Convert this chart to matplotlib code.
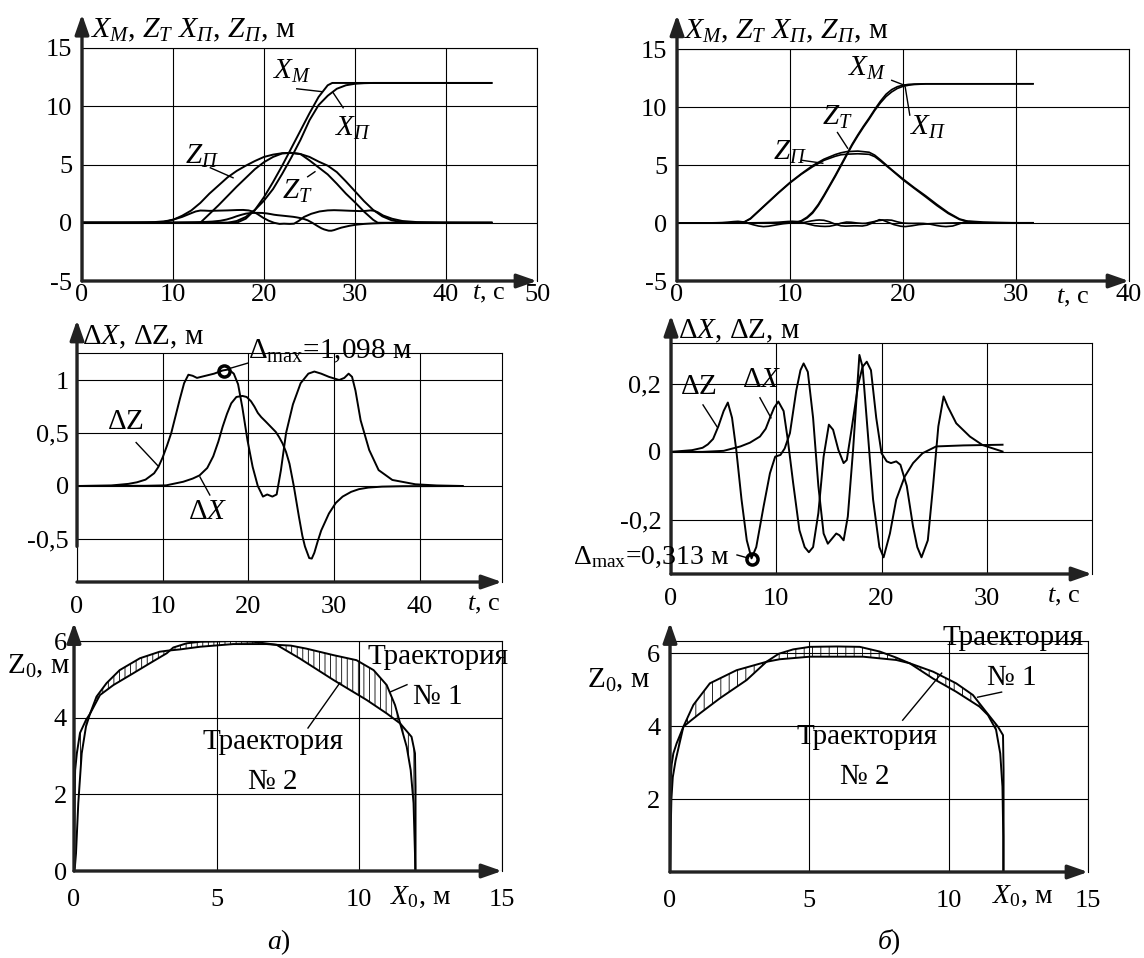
import numpy as np
import matplotlib
matplotlib.use('Agg')
import matplotlib.pyplot as plt

plt.rcParams['font.family'] = ['Liberation Serif', 'DejaVu Serif']
plt.rcParams['mathtext.fontset'] = 'custom'
plt.rcParams['mathtext.rm'] = 'Liberation Serif'
plt.rcParams['mathtext.it'] = 'Liberation Serif:italic'
plt.rcParams['mathtext.bf'] = 'Liberation Serif:bold'
plt.rcParams['hatch.linewidth'] = 0.6
plt.rcParams['axes.unicode_minus'] = False

# ---------------- data: panel a) top ----------------
t_zp_a = [0, 8, 9, 10, 11, 12, 13, 14, 15, 16, 17, 18, 19, 20, 21, 22, 23, 24, 25, 26, 27, 28, 29, 30, 31, 32, 33, 34, 35, 36, 45]
zp_a = [0, 0, 0.07, 0.25, 0.6, 1.05, 1.7, 2.5, 3.2, 3.9, 4.45, 4.9, 5.3, 5.65, 5.85, 5.97, 6.0, 5.9, 5.65, 5.25, 4.9, 4.35, 3.55, 2.7, 1.85, 1.1, 0.55, 0.22, 0.07, 0, 0]
t_zt_a = [0, 13, 14, 15, 16, 17, 18, 19, 20, 21, 22, 23, 24, 25, 26, 27, 28, 29, 30, 31, 32, 32.5, 45]
zt_a = [0, 0, 0.75, 1.5, 2.3, 3.1, 3.85, 4.6, 5.2, 5.65, 5.95, 6.0, 5.9, 5.35, 4.75, 4.15, 3.35, 2.5, 1.75, 0.95, 0.25, 0, 0]
t_xm_a = [0, 17, 18, 19, 20, 21, 22, 23, 24, 25, 26, 27, 27.5, 45]
xm_a = [0, 0, 0.35, 1.1, 2.2, 3.5, 4.9, 6.4, 7.9, 9.4, 10.8, 11.8, 12, 12]
t_xp_a = [0, 16, 17, 18, 19, 20, 21, 22, 23, 24, 25, 26, 27, 28, 29, 30, 31, 32, 45]
xp_a = [0, 0, 0.15, 0.5, 1.1, 1.9, 2.9, 4.2, 5.6, 7.1, 8.8, 10.1, 10.9, 11.5, 11.8, 11.93, 11.98, 12, 12]

# ---------------- data: panel a) middle ----------------
t_dz_a = [0, 4, 6, 7, 8, 9, 9.5, 10, 10.5, 11, 11.5, 12, 12.5, 13, 13.5, 14, 15, 16, 17, 17.7, 18.3, 18.8, 19.3, 19.9, 20.5, 21.1, 21.7, 22.2, 22.8, 23.3, 23.8, 24.4, 25.2, 26.1, 27, 27.7, 28.5, 29.4, 30.6, 31.2, 31.7, 32.1, 32.5, 33.1, 34.1, 35.2, 36.8, 39.5, 42, 45]
dz_a = [0, 0.005, 0.02, 0.035, 0.06, 0.12, 0.18, 0.27, 0.38, 0.5, 0.66, 0.82, 0.97, 1.05, 1.04, 1.02, 1.04, 1.06, 1.09, 1.1, 1.06, 0.96, 0.74, 0.43, 0.18, 0.0, -0.1, -0.08, -0.1, -0.08, 0.15, 0.5, 0.77, 0.97, 1.06, 1.08, 1.06, 1.03, 1.0, 1.02, 1.06, 1.03, 0.9, 0.62, 0.34, 0.15, 0.057, 0.016, 0.005, 0]
t_dx_a = [0, 8, 10.4, 12.4, 13.5, 14.3, 15.2, 15.9, 16.5, 17, 17.5, 18, 18.6, 19.3, 19.8, 20.3, 20.7, 21.1, 21.5, 22, 22.6, 23.2, 23.6, 24, 24.4, 24.8, 25.3, 25.9, 26.3, 26.6, 27.1, 27.4, 27.7, 28.1, 28.5, 29.4, 30.2, 31, 32, 32.9, 34, 35.6, 38, 45]
dx_a = [0, 0.002, 0.006, 0.04, 0.07, 0.1, 0.17, 0.28, 0.42, 0.56, 0.68, 0.78, 0.84, 0.85, 0.84, 0.8, 0.75, 0.69, 0.65, 0.61, 0.56, 0.51, 0.46, 0.4, 0.32, 0.21, 0.0, -0.29, -0.47, -0.57, -0.68, -0.685, -0.63, -0.52, -0.42, -0.26, -0.16, -0.1, -0.055, -0.03, -0.015, -0.006, -0.002, 0]
dmax_a = (17.15, 1.085)

# ---------------- data: panel б) top ----------------
t_z_b = [0, 5, 5.5, 6, 6.5, 7, 7.5, 8, 9, 10, 11, 12, 13, 14, 14.5, 15, 16, 17, 17.5, 18, 19, 20, 21, 22, 23, 24, 25, 26, 27, 31.5]
zt_b = [0, 0, 0.03, 0.12, 0.4, 0.85, 1.3, 1.75, 2.65, 3.5, 4.25, 4.95, 5.5, 5.9, 6.05, 6.15, 6.2, 6.1, 5.85, 5.45, 4.6, 3.8, 3.05, 2.35, 1.6, 0.9, 0.35, 0.08, 0, 0]
zp_b = [0, 0, 0.02, 0.1, 0.35, 0.8, 1.25, 1.7, 2.6, 3.45, 4.2, 4.85, 5.4, 5.75, 5.88, 5.93, 5.97, 5.92, 5.72, 5.35, 4.55, 3.72, 2.98, 2.25, 1.5, 0.82, 0.3, 0.06, 0, 0]
t_x_b = [0, 10, 10.5, 11, 11.5, 12, 12.5, 13, 13.5, 14, 14.5, 15, 15.5, 16, 16.5, 17, 17.5, 18, 18.5, 19, 19.5, 20, 20.5, 21, 22, 31.5]
xm_b = [0, 0, 0.05, 0.2, 0.5, 0.95, 1.6, 2.4, 3.25, 4.1, 5.0, 5.9, 6.8, 7.6, 8.35, 9.05, 9.8, 10.5, 11.1, 11.5, 11.75, 11.88, 11.95, 11.98, 12, 12]
xp_b = [0, 0, 0.03, 0.15, 0.42, 0.85, 1.5, 2.3, 3.15, 4.0, 4.9, 5.8, 6.7, 7.5, 8.25, 8.95, 9.7, 10.35, 10.9, 11.3, 11.6, 11.78, 11.88, 11.94, 11.99, 12]

# ---------------- data: panel б) middle ----------------
t_dz_b = [0, 2, 3, 3.5, 4, 4.5, 5.0, 5.4, 5.8, 6.2, 6.7, 7.2, 7.65, 8.1, 8.8, 9.4, 9.9, 10.4, 10.8, 11.3, 11.9, 12.3, 12.6, 13.0, 13.5, 14.0, 14.5, 14.9, 15.3, 15.7, 16.0, 16.4, 16.8, 17.3, 17.9, 18.2, 18.7, 19.2, 19.8, 20.2, 20.8, 21.4, 22.2, 23.0, 23.9, 25.2, 27.8, 31.5]
dz_b = [0, 0.005, 0.012, 0.022, 0.038, 0.075, 0.12, 0.145, 0.10, 0.006, -0.14, -0.26, -0.313, -0.28, -0.16, -0.063, -0.014, -0.009, 0.01, 0.055, 0.18, 0.24, 0.26, 0.235, 0.10, -0.10, -0.24, -0.27, -0.255, -0.24, -0.245, -0.26, -0.19, 0.006, 0.285, 0.25, 0.055, -0.14, -0.28, -0.31, -0.24, -0.14, -0.073, -0.033, -0.004, 0.016, 0.019, 0.021]
t_dx_b = [0, 3, 5, 6.6, 7.5, 8.45, 9.0, 9.4, 9.8, 10.2, 10.7, 11.1, 11.6, 12.2, 12.7, 13.1, 13.5, 14.0, 14.5, 15.0, 15.4, 15.9, 16.4, 16.7, 17.1, 17.8, 18.2, 18.6, 19.0, 19.5, 20.0, 20.5, 20.9, 21.4, 21.8, 22.4, 23.0, 23.4, 23.8, 24.4, 24.9, 25.4, 25.9, 26.3, 27.1, 28.4, 29.6, 31.5]
dx_b = [0, 0.0, 0.003, 0.016, 0.027, 0.045, 0.068, 0.1, 0.13, 0.148, 0.12, 0.035, -0.09, -0.23, -0.28, -0.295, -0.28, -0.18, -0.014, 0.08, 0.065, 0.006, -0.033, -0.024, 0.055, 0.2, 0.25, 0.265, 0.24, 0.10, -0.004, -0.028, -0.033, -0.028, -0.038, -0.10, -0.22, -0.28, -0.31, -0.26, -0.10, 0.075, 0.163, 0.133, 0.084, 0.045, 0.02, 0.001]
dmax_b = (7.7, -0.315)

# ---------------- data: trajectories ----------------
tr1_a_x = [0, 0.03, 0.07, 0.15, 0.27, 0.42, 0.56, 0.79, 1.14, 1.6, 2.31, 3.0, 3.3, 3.71, 4.42, 5.58, 6.75, 7.1, 7.6, 8.15, 9.1, 9.9, 10.5, 10.96, 11.25, 11.43, 11.66, 11.8, 11.9, 11.95, 11.96]
tr1_a_z = [0, 0.1, 0.46, 1.77, 3.07, 3.77, 4.1, 4.55, 4.9, 5.24, 5.55, 5.72, 5.75, 5.78, 5.85, 5.92, 5.92, 5.9, 5.88, 5.8, 5.63, 5.5, 5.24, 4.85, 4.33, 3.85, 3.24, 2.63, 1.77, 0.46, 0]
tr2_a_x = [0, 0.0, 0.02, 0.04, 0.1, 0.21, 0.42, 0.56, 0.91, 1.38, 2.08, 2.66, 3.25, 3.48, 3.95, 4.42, 5.58, 6.29, 7.1, 7.9, 9.1, 10.26, 10.96, 11.43, 11.83, 11.95, 11.97, 11.97]
tr2_a_z = [0, 1.0, 2.0, 2.63, 3.07, 3.6, 3.94, 4.1, 4.59, 4.85, 5.16, 5.42, 5.68, 5.83, 5.94, 5.98, 6.0, 5.98, 5.9, 5.55, 4.98, 4.46, 4.11, 3.85, 3.5, 3.07, 2.2, 0]

tr1_b_x = [0, 0.01, 0.02, 0.06, 0.12, 0.24, 0.48, 0.75, 1.08, 1.79, 2.75, 3.46, 3.9, 4.42, 5.02, 6.0, 6.81, 7.53, 8.1, 8.6, 9.44, 10.27, 11.11, 11.41, 11.7, 11.85, 11.93, 11.96, 11.96]
tr1_b_z = [0, 1.5, 2.5, 2.95, 3.25, 3.53, 3.98, 4.15, 4.35, 4.76, 5.26, 5.76, 5.98, 6.1, 6.17, 6.18, 6.17, 6.04, 5.88, 5.72, 5.3, 4.94, 4.53, 4.3, 3.9, 3.25, 2.34, 0.97, 0]
tr2_b_x = [0, 0.02, 0.05, 0.1, 0.2, 0.35, 0.48, 0.84, 1.43, 2.39, 3.46, 3.94, 5.02, 6.93, 8.12, 8.6, 9.44, 10.27, 10.87, 11.29, 11.77, 11.95, 11.97, 11.97]
tr2_b_z = [0, 1.0, 2.0, 2.6, 3.05, 3.55, 3.98, 4.58, 5.17, 5.53, 5.76, 5.83, 5.9, 5.9, 5.81, 5.72, 5.49, 5.17, 4.85, 4.44, 3.98, 3.75, 2.8, 0]

W, H = 1144, 958
fig = plt.figure(figsize=(W / 100, H / 100), dpi=100)

AXC = '#222222'
LW = 1.4
TICK_FS = 19
LAB_FS = 21


def add_ax(x0, x1, ytop, ybot):
    return fig.add_axes([x0 / W, 1 - ybot / H, (x1 - x0) / W, (ybot - ytop) / H])


def style(ax, xlim, ylim, xt, xl, yt, yl, xpad, ypad, arrow_top, left_from=0.0):
    ax.set_xlim(*xlim)
    ax.set_ylim(*ylim)
    ax.set_xticks(xt)
    ax.set_xticklabels(xl)
    ax.set_yticks(yt)
    ax.set_yticklabels(yl)
    ax.tick_params(length=0, labelsize=TICK_FS, colors='black')
    ax.tick_params(axis='x', pad=xpad)
    ax.tick_params(axis='y', pad=ypad)
    ax.grid(True, color='black', lw=0.8)
    ax.set_axisbelow(True)
    for s in ['top', 'right', 'left']:
        ax.spines[s].set_linewidth(0.8)
        ax.spines[s].set_color('black')
    ax.spines['bottom'].set_visible(False)
    ap = dict(arrowstyle='-|>,head_length=1.2,head_width=0.42', lw=2.4, color=AXC,
              shrinkA=0, shrinkB=0, mutation_scale=10)
    ax.annotate('', xy=(1.0, 0), xytext=(0, 0), xycoords='axes fraction',
                arrowprops=ap, annotation_clip=False)
    ax.annotate('', xy=(0, arrow_top), xytext=(0, left_from), xycoords='axes fraction',
                arrowprops=ap, annotation_clip=False)


def pointer(ax, p0, p1):
    ax.plot([p0[0], p1[0]], [p0[1], p1[1]], color='black', lw=1.0, clip_on=False)


def dec(v):
    return ('%g' % v).replace('.', ',')


TOP_LABEL = r'$X_M$, $Z_T$ $X_П$, $Z_П$, м'

# ================= top-left =================
ax = add_ax(82, 537, 48, 281)
style(ax, (0, 50), (-5, 15), [0, 10, 20, 30, 40, 50], ['0', '10', '20', '30', '40', '50'],
      [-5, 0, 5, 10, 15], ['-5', '0', '5', '10', '15'], 2, 7, 1.145)
for tt, yy in [(t_zp_a, zp_a), (t_zt_a, zt_a), (t_xm_a, xm_a), (t_xp_a, xp_a), (t_dz_a, dz_a), (t_dx_a, dx_a)]:
    ax.plot(tt, yy, color='black', lw=LW)
ax.text(0.9, 16.5, TOP_LABEL, fontsize=LAB_FS + 0.5, ha='left', va='center')
ax.text(21.0, 13.0, r'$X_M$', fontsize=LAB_FS, ha='left', va='center')
pointer(ax, (23.6, 11.5), (26.4, 11.25))
ax.text(27.8, 8.1, r'$X_П$', fontsize=LAB_FS, ha='left', va='center')
pointer(ax, (27.6, 11.16), (28.7, 9.87))
ax.text(11.3, 5.7, r'$Z_П$', fontsize=LAB_FS, ha='left', va='center')
pointer(ax, (14.1, 4.72), (16.6, 3.86))
ax.text(22.0, 2.66, r'$Z_T$', fontsize=LAB_FS, ha='left', va='center')
pointer(ax, (24.8, 3.95), (25.6, 4.38))
ax.text(42.9, -6.1, r'$t$, с', fontsize=TICK_FS, ha='left', va='center')

# ================= top-right =================
ax = add_ax(677, 1129, 49, 281)
style(ax, (0, 40), (-5, 15), [0, 10, 20, 30, 40], ['0', '10', '20', '30', '40'],
      [-5, 0, 5, 10, 15], ['-5', '0', '5', '10', '15'], 2, 7, 1.147)
for tt, yy in [(t_z_b, zt_b), (t_z_b, zp_b), (t_x_b, xm_b), (t_x_b, xp_b), (t_dz_b, dz_b), (t_dx_b, dx_b)]:
    ax.plot(tt, yy, color='black', lw=1.2)
ax.text(0.55, 16.5, TOP_LABEL, fontsize=LAB_FS + 0.5, ha='left', va='center')
ax.text(15.1, 13.3, r'$X_M$', fontsize=LAB_FS, ha='left', va='center')
pointer(ax, (19.0, 12.3), (20.2, 11.85))
ax.text(20.6, 8.25, r'$X_П$', fontsize=LAB_FS, ha='left', va='center')
pointer(ax, (20.2, 11.7), (20.6, 9.3))
ax.text(12.8, 9.1, r'$Z_T$', fontsize=LAB_FS, ha='left', va='center')
pointer(ax, (14.2, 7.8), (15.1, 6.45))
ax.text(8.5, 6.1, r'$Z_П$', fontsize=LAB_FS, ha='left', va='center')
pointer(ax, (11.1, 5.4), (12.9, 5.15))
ax.text(33.5, -6.5, r'$t$, с', fontsize=TICK_FS, ha='left', va='center')

# ================= middle-left =================
ax = add_ax(77, 502, 353, 582)
yl = (-0.906, 1.255)
style(ax, (0, 49.6), yl, [0, 10, 20, 30, 40], ['0', '10', '20', '30', '40'],
      [-0.5, 0, 0.5, 1], [dec(v) for v in [-0.5, 0, 0.5, 1]], 10, 6,
      1.144, (-0.57 - yl[0]) / (yl[1] - yl[0]))
ax.plot(t_dz_a, dz_a, color='black', lw=LW)
ax.plot(t_dx_a, dx_a, color='black', lw=LW)
ax.plot([dmax_a[0]], [dmax_a[1]], 'o', ms=8, mfc='none', mec='black', mew=2.5)
ax.text(0.6, 1.40, r'$\Delta X$, $\Delta\mathrm{Z}$, м', fontsize=LAB_FS, ha='left', va='center')
ax.text(3.5, 0.6, r'$\Delta\mathrm{Z}$', fontsize=LAB_FS, ha='left', va='center')
pointer(ax, (6.9, 0.41), (9.45, 0.19))
ax.text(12.9, -0.245, r'$\Delta X$', fontsize=LAB_FS, ha='left', va='center')
pointer(ax, (14.35, 0.085), (15.5, -0.085))
ax.text(19.9, 1.27, r'$\Delta_{\mathrm{max}}$=1,098 м', fontsize=LAB_FS, ha='left', va='center')
pointer(ax, (17.85, 1.11), (19.95, 1.16))
ax.text(45.5, -1.12, r'$t$, с', fontsize=TICK_FS, ha='left', va='center')

# ================= middle-right =================
ax = add_ax(671, 1092, 343, 574)
style(ax, (0, 40), (-0.359, 0.32), [0, 10, 20, 30], ['0', '10', '20', '30'],
      [-0.2, 0, 0.2], [dec(v) for v in [-0.2, 0, 0.2]], 10, 7, 1.12)
ax.plot(t_dz_b, dz_b, color='black', lw=LW)
ax.plot(t_dx_b, dx_b, color='black', lw=LW)
ax.plot([dmax_b[0]], [dmax_b[1]], 'o', ms=8, mfc='none', mec='black', mew=2.5)
ax.text(0.66, 0.353, r'$\Delta X$, $\Delta\mathrm{Z}$, м', fontsize=LAB_FS, ha='left', va='center')
ax.text(0.85, 0.19, r'$\Delta\mathrm{Z}$', fontsize=LAB_FS, ha='left', va='center')
pointer(ax, (3.04, 0.138), (4.37, 0.074))
ax.text(6.7, 0.212, r'$\Delta X$', fontsize=LAB_FS, ha='left', va='center')
pointer(ax, (8.45, 0.159), (9.5, 0.1))
ax.text(5.5, -0.31, r'$\Delta_{\mathrm{max}}$=0,313 м', fontsize=20, ha='right', va='center')
pointer(ax, (6.27, -0.303), (7.31, -0.312))
ax.text(35.7, -0.426, r'$t$, с', fontsize=TICK_FS, ha='left', va='center')

# ================= bottom-left =================
ax = add_ax(74, 502, 641, 871)
style(ax, (0, 15), (0, 6), [0, 5, 10, 15], ['0', '5', '10', '15'],
      [0, 2, 4, 6], ['0', '2', '4', '6'], 13, 5, 1.08)
ax.fill(np.concatenate([tr1_a_x, tr2_a_x[::-1]]), np.concatenate([tr1_a_z, tr2_a_z[::-1]]),
        facecolor='none', edgecolor='black', hatch='|||', lw=0)
ax.plot(tr1_a_x, tr1_a_z, color='black', lw=LW)
ax.plot(tr2_a_x, tr2_a_z, color='black', lw=LW)
ax.text(-0.14, 5.33, r'$\mathrm{Z}_0$, м', fontsize=LAB_FS, ha='right', va='center')
ax.text(10.3, 5.59, 'Траектория', fontsize=LAB_FS, ha='left', va='center')
ax.text(11.88, 4.54, '№ 1', fontsize=LAB_FS, ha='left', va='center')
pointer(ax, (11.08, 4.67), (11.67, 4.86))
ax.text(4.49, 3.37, 'Траектория', fontsize=LAB_FS, ha='left', va='center')
ax.text(6.1, 2.32, '№ 2', fontsize=LAB_FS, ha='left', va='center')
pointer(ax, (8.2, 3.73), (9.32, 4.91))
ax.text(11.08, -0.68, r'$X_0$, м', fontsize=20, ha='left', va='center')

# ================= bottom-right =================
ax = add_ax(670, 1088, 641, 872)
style(ax, (0, 15), (0, 6.33), [0, 5, 10, 15], ['0', '5', '10', '15'],
      [2, 4, 6], ['2', '4', '6'], 13, 7, 1.08)
ax.fill(np.concatenate([tr1_b_x, tr2_b_x[::-1]]), np.concatenate([tr1_b_z, tr2_b_z[::-1]]),
        facecolor='none', edgecolor='black', hatch='||', lw=0)
ax.plot(tr1_b_x, tr1_b_z, color='black', lw=LW)
ax.plot(tr2_b_x, tr2_b_z, color='black', lw=LW)
ax.text(-0.72, 5.26, r'$\mathrm{Z}_0$, м', fontsize=LAB_FS, ha='right', va='center')
ax.text(9.78, 6.41, 'Траектория', fontsize=LAB_FS, ha='left', va='center')
ax.text(11.36, 5.32, '№ 1', fontsize=LAB_FS, ha='left', va='center')
pointer(ax, (11.04, 4.79), (11.9, 4.93))
ax.text(4.55, 3.7, 'Траектория', fontsize=LAB_FS, ha='left', va='center')
ax.text(6.09, 2.6, '№ 2', fontsize=LAB_FS, ha='left', va='center')
pointer(ax, (8.35, 4.16), (9.75, 5.45))
ax.text(11.54, -0.68, r'$X_0$, м', fontsize=20, ha='left', va='center')

fig.text(279 / W, 1 - 942 / H, r'$а$)', fontsize=20, ha='center', va='center')
fig.text(889 / W, 1 - 942 / H, r'$б$)', fontsize=20, ha='center', va='center')

fig.savefig('out.png', dpi=100)
